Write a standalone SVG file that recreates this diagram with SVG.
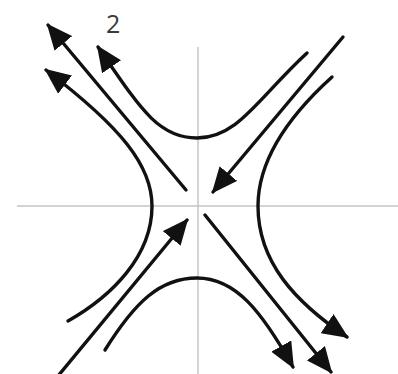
<svg xmlns="http://www.w3.org/2000/svg" width="398" height="374" viewBox="0 0 398 374">
<style>
.axis{stroke:#c4c4c4;stroke-width:1.5;fill:none}
.flow{stroke:#111;stroke-width:3.4;fill:none;stroke-linecap:round}
.lbl{font-family:"Open Sans","Liberation Sans",Arial,sans-serif;font-size:25px;fill:#3a3a3a}
</style>
<defs>
<marker id="ah" markerUnits="userSpaceOnUse" viewBox="0 0 26 23" refX="24" refY="11.5" markerWidth="26" markerHeight="23" orient="auto">
<path d="M0,0 L26,11.5 L0,23 z" fill="#111"/>
</marker>
</defs>
<g id="axes">
<line class="axis" x1="17" y1="206" x2="398" y2="206"/>
<line class="axis" x1="198" y1="47" x2="198" y2="374"/>
</g>
<g id="connectors">
<path id="upper" class="flow" d="M307,53 C258,98 238,138 197,138 C158,138 140,108 98,47" marker-end="url(#ah)"/>
<path id="left" class="flow" d="M68,321 C112,296 152,256 152,206 C152,166 122,128 46,70" marker-end="url(#ah)"/>
<path id="right" class="flow" d="M332,77 C290,115 258,160 258,206 C258,262 295,302 347,337" marker-end="url(#ah)"/>
<path id="lower" class="flow" d="M105,350 C135,302 160,278 197,278 C236,278 262,312 293,367" marker-end="url(#ah)"/>
<path id="stable1" class="flow" d="M343,37 L213,192" marker-end="url(#ah)"/>
<path id="stable2" class="flow" d="M58,376 L187,220" marker-end="url(#ah)"/>
<path id="unstable1" class="flow" d="M186,190 L48,25" marker-end="url(#ah)"/>
<path id="unstable2" class="flow" d="M205,215 L331,372" marker-end="url(#ah)"/>
</g>
<g id="labels">
<text class="lbl" x="106" y="33">2</text>
</g>
</svg>
